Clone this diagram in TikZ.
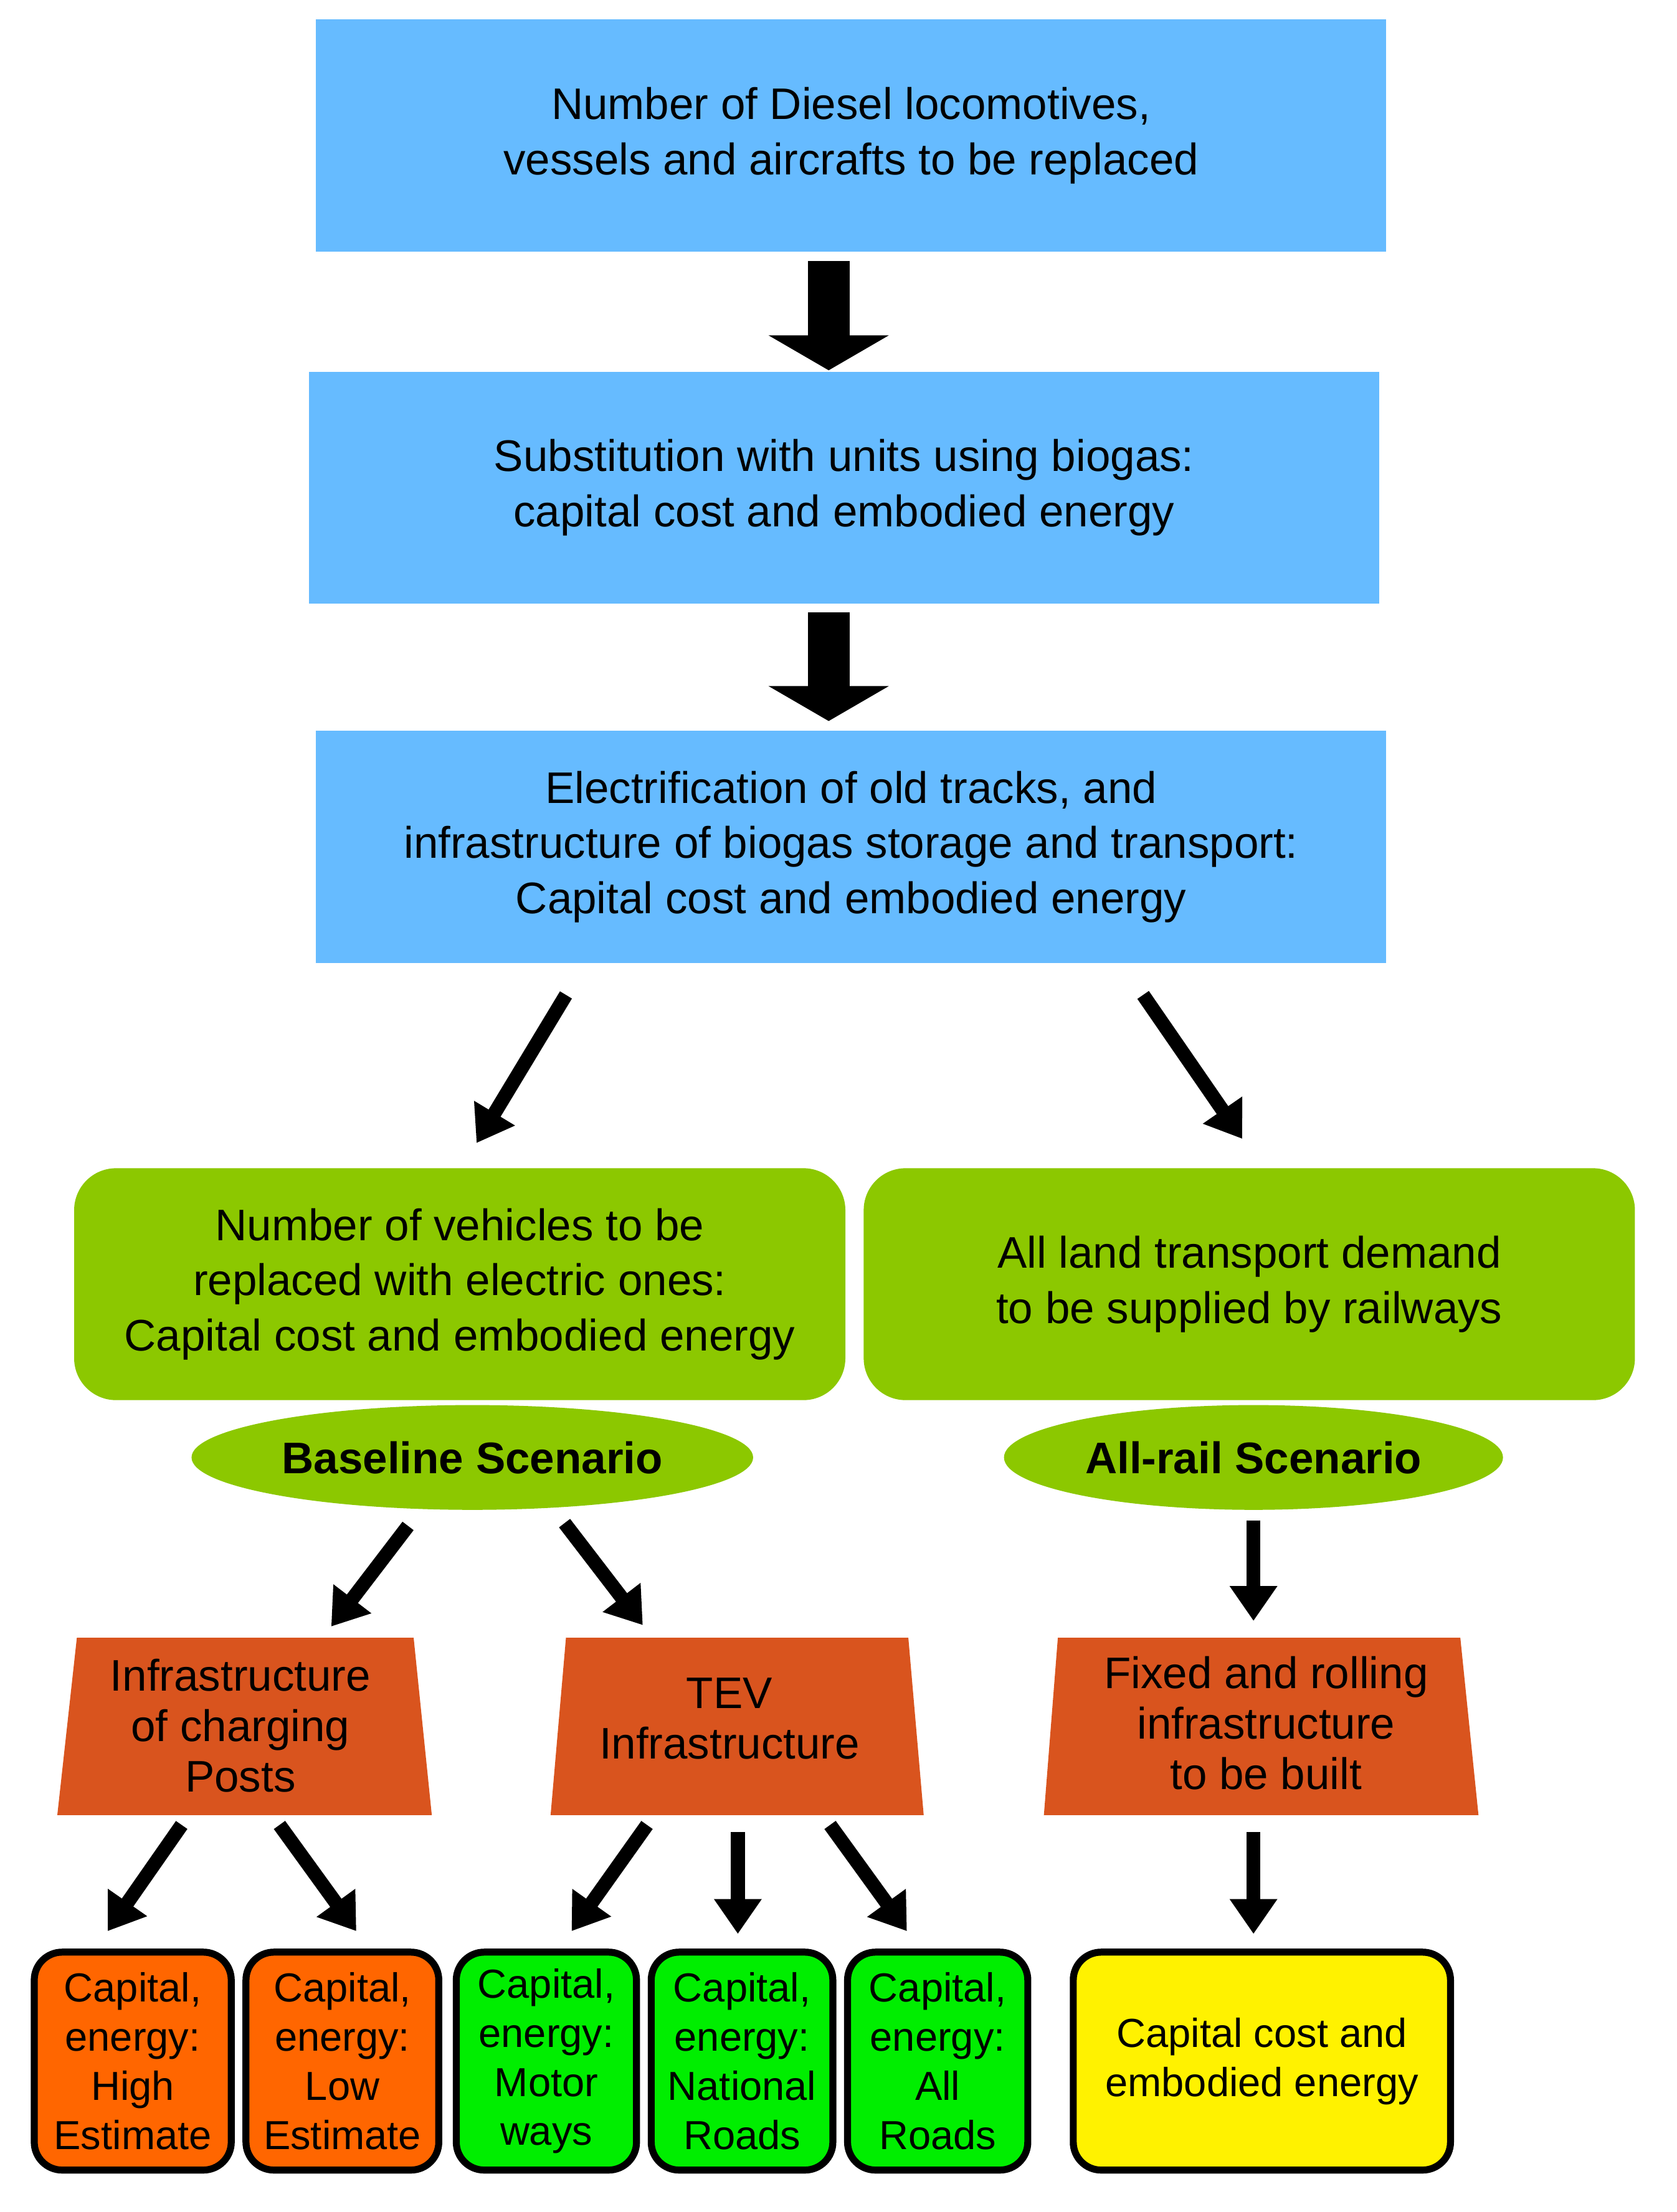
\documentclass[tikz,border=0pt]{standalone}
\usepackage{fontspec}
\setmainfont{Liberation Sans}
\usetikzlibrary{shapes.geometric,arrows.meta}
\definecolor{skyblue}{HTML}{66BBFF}
\definecolor{leafgreen}{HTML}{8CC800}
\definecolor{brick}{HTML}{D9541E}
\definecolor{tangerine}{HTML}{FF6600}
\definecolor{brightgreen}{HTML}{00EE00}
\tikzset{
 stage/.style={fill=skyblue,minimum width=15.32cm,minimum height=3.32cm,align=center,font=\fontsize{18}{22.5}\selectfont},
 scen/.style={fill=leafgreen,rounded corners=0.6cm,minimum width=11.04cm,minimum height=3.32cm,align=center,font=\fontsize{18}{22.5}\selectfont},
 tag/.style={ellipse,fill=leafgreen,minimum width=6.7cm,minimum height=1.5cm,font=\fontsize{18}{22}\selectfont\bfseries},
 infra/.style={align=center,font=\fontsize{18}{20.5}\selectfont},
 cost/.style={draw=black,line width=0.1cm,rounded corners=0.4cm,minimum height=3.12cm,align=center,font=\fontsize{16.5}{20}\selectfont,inner sep=0pt},
 bigarrow/.style={line width=0.6cm,-{Triangle[width=1.7cm,length=0.5cm]}},
 arr/.style={line width=0.2cm,-{Triangle[width=0.65cm,length=0.5cm]}}
}
\begin{document}
\begin{tikzpicture}[x=0.02cm,y=-0.02cm]
\useasboundingbox (0,0) rectangle (1200,1583);
\node[stage] (diesel) at (609,97) {Number of Diesel locomotives,\\vessels and aircrafts to be replaced};
\node[stage] (biogas) at (604,349) {Substitution with units using biogas:\\capital cost and embodied energy};
\node[stage] (electr) at (609,606) {Electrification of old tracks, and\\infrastructure of biogas storage and transport:\\Capital cost and embodied energy};
\node[scen] (vehicles) at (329,919) {Number of vehicles to be\\replaced with electric ones:\\Capital cost and embodied energy};
\node[scen] (landtr) at (894,919) {All land transport demand\\to be supplied by railways};
\node[tag] (base) at (338,1043) {Baseline Scenario};
\node[tag] (allrail) at (897,1043) {All-rail Scenario};
% trapezia
\fill[brick] (41,1299) -- (55,1172) -- (296,1172) -- (309,1299) -- cycle;
\fill[brick] (394,1299) -- (405,1172) -- (650,1172) -- (661,1299) -- cycle;
\fill[brick] (747,1299) -- (757,1172) -- (1045,1172) -- (1058,1299) -- cycle;
\node[infra] (posts) at (172,1235) {Infrastructure\\of charging\\Posts};
\node[infra] (tev) at (522,1230) {TEV\\Infrastructure};
\node[infra] (rolling) at (906,1233) {Fixed and rolling\\infrastructure\\to be built};
% costs
\node[cost,fill=tangerine,minimum width=2.82cm] (high) at (95,1475) {Capital,\\energy:\\High\\Estimate};
\node[cost,fill=tangerine,minimum width=2.76cm] (low) at (245,1475) {Capital,\\energy:\\Low\\Estimate};
\node[cost,fill=brightgreen,minimum width=2.58cm] (motor) at (391,1475) {Capital,\\energy:\\Motor\\ways};
\node[cost,fill=brightgreen,minimum width=2.6cm] (national) at (531,1475) {Capital,\\energy:\\National\\Roads};
\node[cost,fill=brightgreen,minimum width=2.58cm] (allroads) at (671,1475) {Capital,\\energy:\\All\\Roads};
\node[cost,fill=yellow,minimum width=5.4cm] (railcost) at (903,1475) {Capital cost and\\embodied energy};
% arrows
\coordinate (a1) at (593,187); \coordinate (b1) at (593,265);
\coordinate (a2) at (593,438); \coordinate (b2) at (593,516);
\draw[bigarrow] (a1) -- (b1);
\draw[bigarrow] (a2) -- (b2);
\coordinate (c1) at (405,712); \coordinate (d1) at (341,818);
\coordinate (c2) at (818,712); \coordinate (d2) at (889,815);
\draw[arr] (c1) -- (d1);
\draw[arr] (c2) -- (d2);
\coordinate (e1) at (292,1092); \coordinate (f1) at (237,1164);
\coordinate (e2) at (404,1090); \coordinate (f2) at (460,1163);
\coordinate (e3) at (897,1088); \coordinate (f3) at (897,1160);
\draw[arr] (e1) -- (f1);
\draw[arr] (e2) -- (f2);
\draw[arr] (e3) -- (f3);
\coordinate (g1) at (130,1306); \coordinate (h1) at (77,1382);
\coordinate (g2) at (200,1306); \coordinate (h2) at (255,1382);
\coordinate (g3) at (463,1306); \coordinate (h3) at (409,1382);
\coordinate (g4) at (528,1311); \coordinate (h4) at (528,1384);
\coordinate (g5) at (594,1306); \coordinate (h5) at (649,1382);
\coordinate (g6) at (897,1311); \coordinate (h6) at (897,1384);
\foreach \s/\t in {g1/h1,g2/h2,g3/h3,g4/h4,g5/h5,g6/h6}
  \draw[arr] (\s) -- (\t);
\end{tikzpicture}
\end{document}
